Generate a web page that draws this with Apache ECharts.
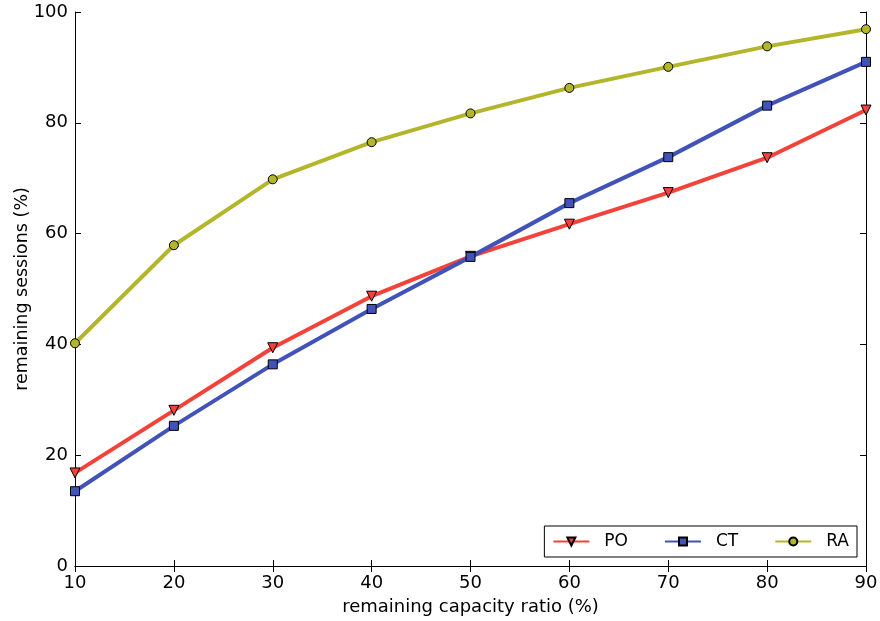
<!DOCTYPE html>
<html>
<head>
<meta charset="utf-8">
<script src="https://cdn.jsdelivr.net/npm/echarts@6/dist/echarts.min.js"></script>
<style>
  html, body { margin: 0; padding: 0; background: #fff; }
  #chart { width: 880px; height: 621px; }
</style>
</head>
<body>
<div id="chart"></div>
<script>
// remaining capacity ratio (%)
const ratios = [10, 20, 30, 40, 50, 60, 70, 80, 90];
// remaining sessions (%)
const poValues = [16.8, 28.1, 39.4, 48.7, 55.9, 61.7, 67.4, 73.7, 82.3];
const ctValues = [13.5, 25.3, 36.4, 46.4, 55.8, 65.5, 73.8, 83.1, 91.0];
const raValues = [40.2, 57.9, 69.8, 76.5, 81.7, 86.3, 90.1, 93.8, 96.9];

const chart = echarts.init(document.getElementById('chart'));
const font = 'DejaVu Sans';

function pairs(vals) {
  return ratios.map((x, i) => [x, vals[i]]);
}

function lineSeries(name, vals, color, symbol) {
  return {
    name: name,
    type: 'line',
    data: pairs(vals),
    symbol: symbol,
    symbolSize: symbol === 'triangle' ? 10 : 9,
    symbolRotate: symbol === 'triangle' ? 180 : 0,
    lineStyle: { color: color, width: 4 },
    itemStyle: { color: color, borderColor: '#000', borderWidth: 1 },
    emphasis: { disabled: true },
    animation: false
  };
}

const tickStyle = { inside: true, length: 6, lineStyle: { color: '#000' } };

const option = {
  backgroundColor: '#fff',
  textStyle: { fontFamily: font },
  grid: { left: 75, right: 14, top: 12, bottom: 55, outerBoundsMode: 'none', containLabel: false },
  legend: {
    right: 23,
    bottom: 64,
    orient: 'horizontal',
    itemWidth: 36,
    itemHeight: 10,
    itemGap: 36,
    padding: [7, 8, 7, 8],
    borderColor: '#000',
    borderWidth: 1,
    borderRadius: 0,
    backgroundColor: '#fff',
    textStyle: { fontFamily: font, fontSize: 17, color: '#000', padding: [0, 0, 0, 10] },
    data: ['PO', 'CT', 'RA']
  },
  xAxis: [
    {
      type: 'value', min: 10, max: 90, interval: 10,
      name: 'remaining capacity ratio (%)',
      nameLocation: 'middle', nameGap: 32,
      nameMoveOverlap: false,
      nameTextStyle: { fontFamily: font, fontSize: 18, color: '#000' },
      axisLine: { lineStyle: { color: '#000', width: 1 } },
      axisTick: tickStyle,
      axisLabel: { fontFamily: font, fontSize: 18, color: '#000', margin: 8 },
      splitLine: { show: false }
    },
    {
      type: 'value', min: 10, max: 90, interval: 10, position: 'top',
      axisLine: { show: true, lineStyle: { color: '#000', width: 1 } },
      axisTick: tickStyle,
      axisLabel: { show: false },
      splitLine: { show: false }
    }
  ],
  yAxis: [
    {
      type: 'value', min: 0, max: 100, interval: 20,
      name: 'remaining sessions (%)',
      nameLocation: 'middle', nameGap: 44,
      nameMoveOverlap: false,
      nameTextStyle: { fontFamily: font, fontSize: 17.5, color: '#000' },
      axisLine: { show: true, lineStyle: { color: '#000', width: 1 } },
      axisTick: tickStyle,
      axisLabel: { fontFamily: font, fontSize: 18, color: '#000', margin: 7 },
      splitLine: { show: false }
    },
    {
      type: 'value', min: 0, max: 100, interval: 20, position: 'right',
      axisLine: { show: true, lineStyle: { color: '#000', width: 1 } },
      axisTick: tickStyle,
      axisLabel: { show: false },
      splitLine: { show: false }
    }
  ],
  series: [
    lineSeries('PO', poValues, '#f2433b', 'triangle'),
    lineSeries('CT', ctValues, '#4153b8', 'rect'),
    lineSeries('RA', raValues, '#b3b62b', 'circle')
  ]
};

chart.setOption(option);
</script>
</body>
</html>
